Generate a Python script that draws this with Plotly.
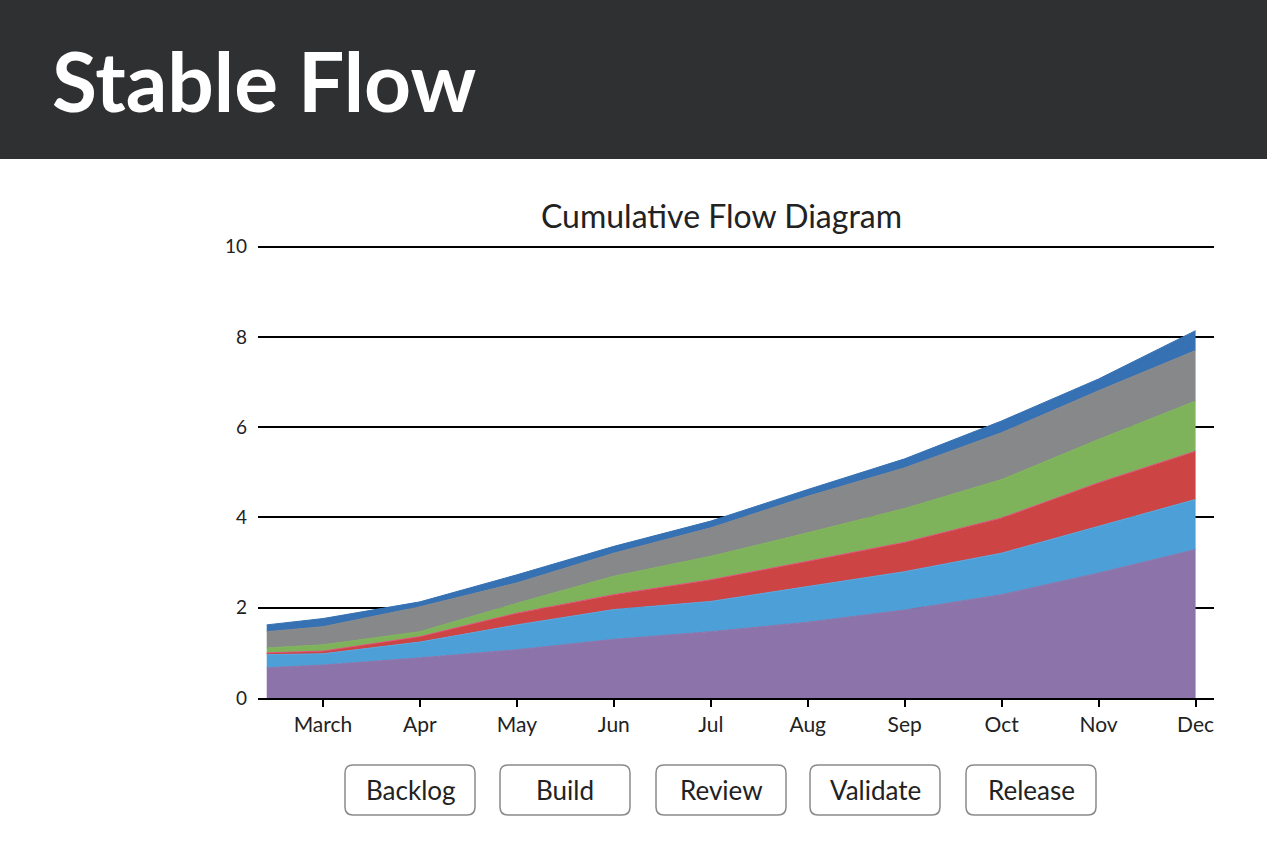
import plotly.graph_objects as go

# ---- data ----
x_vals = [2.42, 3, 4, 5, 6, 7, 8, 9, 10, 11, 12]
tick_vals = [3, 4, 5, 6, 7, 8, 9, 10, 11, 12]
tick_text = ["March", "Apr", "May", "Jun", "Jul", "Aug", "Sep", "Oct", "Nov", "Dec"]
y_ticks = [0, 2, 4, 6, 8, 10]

done = [0.67, 0.73, 0.89, 1.07, 1.30, 1.47, 1.68, 1.95, 2.29, 2.77, 3.29]
release = [0.29, 0.25, 0.35, 0.55, 0.66, 0.67, 0.79, 0.85, 0.92, 1.04, 1.11]
validate = [0.04, 0.06, 0.12, 0.26, 0.33, 0.48, 0.56, 0.65, 0.78, 0.96, 1.07]
review = [0.11, 0.14, 0.11, 0.22, 0.41, 0.52, 0.63, 0.75, 0.85, 0.96, 1.11]
build = [0.36, 0.40, 0.55, 0.45, 0.51, 0.63, 0.81, 0.90, 1.04, 1.08, 1.12]
backlog = [0.15, 0.18, 0.11, 0.18, 0.15, 0.15, 0.15, 0.20, 0.26, 0.26, 0.44]

series = [
    ("Done", done, "#8c74aa", "#8c74aa"),
    ("Release", release, "#4c9fd7", "#55a8e0"),
    ("Validate", validate, "#cc4444", "#e0507a"),
    ("Review", review, "#7fb35b", "#7fb35b"),
    ("Build", build, "#87888a", "#87888a"),
    ("Backlog", backlog, "#3571b3", "#3571b3"),
]
legend_labels = ["Backlog", "Build", "Review", "Validate", "Release"]

W, H = 1267, 847
L, R, T, B = 258, 1214, 244, 698
FONT = "Lato, 'Open Sans', sans-serif"


def px(X):
    return (X - L) / (R - L)


def py(Y):
    return (B - Y) / (B - T)


def rrect(x0, y0, x1, y1, r):
    rx = r / (R - L)
    ry = r / (B - T)
    X0, X1 = px(x0), px(x1)
    Y0, Y1 = py(y1), py(y0)
    return (f"M {X0+rx},{Y0} L {X1-rx},{Y0} Q {X1},{Y0} {X1},{Y0+ry} "
            f"L {X1},{Y1-ry} Q {X1},{Y1} {X1-rx},{Y1} L {X0+rx},{Y1} "
            f"Q {X0},{Y1} {X0},{Y1-ry} L {X0},{Y0+ry} Q {X0},{Y0} {X0+rx},{Y0} Z")


fig = go.Figure()
for name, vals, col, lcol in series:
    fig.add_trace(go.Scatter(
        x=x_vals, y=vals, name=name, mode="lines", stackgroup="one",
        fillcolor=col, line=dict(color=lcol, width=1),
        hoverinfo="x+y+name"))

shapes = [
    dict(type="rect", xref="paper", yref="paper",
         x0=px(0), x1=px(W), y0=py(159), y1=py(-2),
         fillcolor="#2f3032", line=dict(width=0), layer="below"),
]
annotations = [
    dict(text="<b>Stable Flow</b>", xref="paper", yref="paper",
         x=px(50), y=py(80), xanchor="left", yanchor="middle",
         showarrow=False, font=dict(family=FONT, size=82, color="white")),
    dict(text="Cumulative Flow Diagram", xref="paper", yref="paper",
         x=px(721), y=py(215), xanchor="center", yanchor="middle",
         showarrow=False, font=dict(family=FONT, size=32, color="#222222")),
]

btn_x = [345, 500, 656, 810, 966]
for lbl, bx in zip(legend_labels, btn_x):
    shapes.append(dict(type="path", xref="paper", yref="paper",
                       path=rrect(bx, 765, bx + 130, 815, 8),
                       line=dict(color="#8a8a8a", width=1.5),
                       fillcolor="white"))
    annotations.append(dict(text=lbl, xref="paper", yref="paper",
                            x=px(bx + 65), y=py(790), xanchor="center",
                            yanchor="middle", showarrow=False,
                            font=dict(family=FONT, size=26, color="#222222")))

fig.update_layout(
    width=W, height=H,
    margin=dict(l=L, r=W - R, t=T, b=H - B),
    paper_bgcolor="white", plot_bgcolor="white",
    showlegend=False,
    shapes=shapes, annotations=annotations,
    font=dict(family=FONT, color="#222222"),
    xaxis=dict(range=[2.33, 12.19], tickvals=tick_vals, ticktext=tick_text,
               showgrid=False, zeroline=False, showline=True,
               linecolor="black", linewidth=2, ticks="outside", ticklen=7,
               tickwidth=2, tickcolor="black",
               tickfont=dict(size=21, color="#222222")),
    yaxis=dict(range=[0, 10.06], tickvals=y_ticks,
               showgrid=True, gridcolor="black", gridwidth=1.5,
               zeroline=False, showline=False, ticks="",
               ticklabelstandoff=10,
               tickfont=dict(size=19, color="#222222")),
)

fig.write_html("out.html")
